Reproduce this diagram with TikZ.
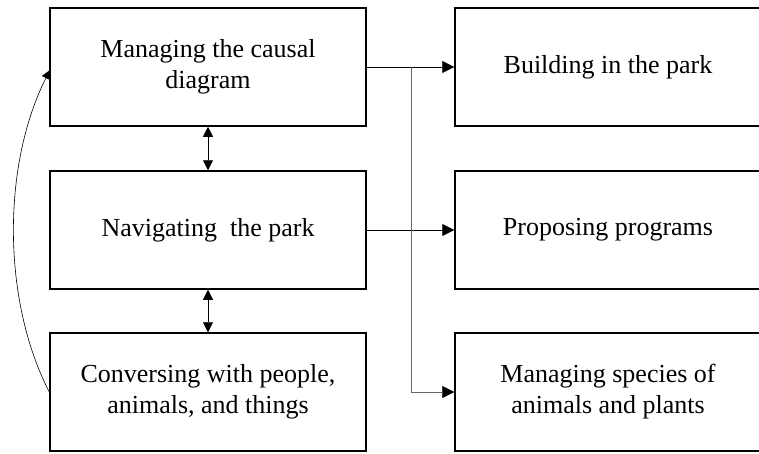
\documentclass[tikz,border=0pt]{standalone}
\usepackage{fontspec}
\setmainfont{Liberation Serif}
\usetikzlibrary{arrows.meta}

\begin{document}
\begin{tikzpicture}[x=1pt,y=-1pt,
  block/.style={rectangle,draw=black,line width=1.5pt,align=center,
    minimum height=118pt,font=\fontsize{26}{31}\selectfont},
  lblock/.style={block,minimum width=316pt},
  rblock/.style={block,minimum width=306pt},
  tip/.style={Triangle[length=12pt,width=12pt,color=black]},
  link/.style={line width=0.8pt,-{Triangle[length=12pt,width=12pt,color=black]}},
  both/.style={line width=0.8pt,{Triangle[length=10pt,width=10pt]}-{Triangle[length=10pt,width=10pt]}}]
\clip (0,0) rectangle (759,453);
\node at (208, 67) (M) [lblock] {Managing the causal\\diagram};
\node at (208,230) (N) [lblock] {Navigating\ \ the park};
\node at (208,392) (C) [lblock] {Conversing with people,\\animals, and things};
\node at (608, 67) (B) [rblock] {Building in the park};
\node at (608,230) (P) [rblock] {Proposing programs};
\node at (608,392) (S) [rblock] {Managing species of\\animals and plants};
\coordinate (J) at (411,67);
\draw [link] (M.east) -- (B.west);
\draw [link] (N.east) -- (P.west);
\draw [link,draw=black!60] (J) |- (S.west);
\draw [both] (M.south) -- (N.north);
\draw [both] (N.south) -- (C.north);
\draw [line width=0.6pt,-{Triangle[length=9pt,width=9pt]}] (C.west) .. controls (2,300) and (2,165) .. (50,70);
\end{tikzpicture}
\end{document}
